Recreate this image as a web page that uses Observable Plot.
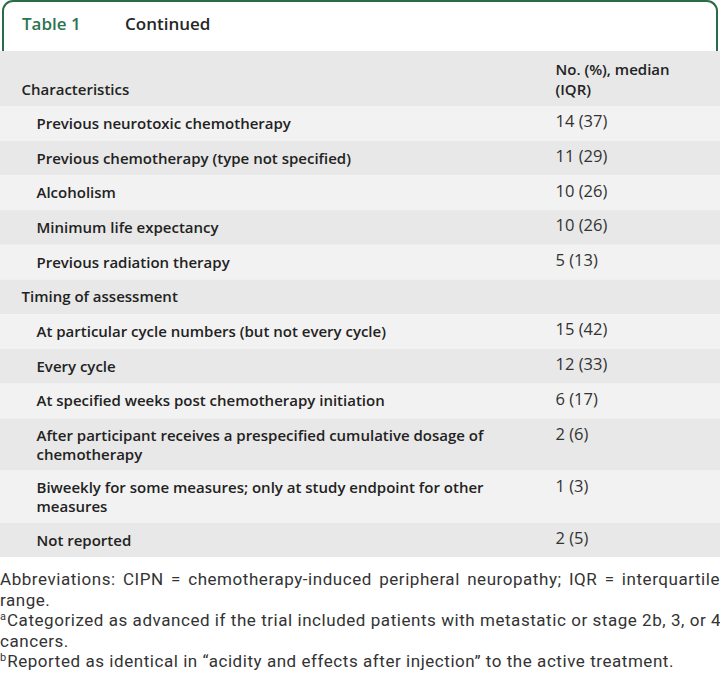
<!DOCTYPE html>
<html>
<head>
<meta charset="utf-8">
<script src="https://cdn.jsdelivr.net/npm/d3@7"></script>
<script src="https://cdn.jsdelivr.net/npm/@observablehq/plot@0.6"></script>
<style>
  html, body { margin: 0; padding: 0; background: #fff; }
  #tab {
    position: relative;
    box-sizing: border-box;
    margin-left: 2px;
    width: 716px;
    height: 51px;
    border: 2px solid #2c6b47;
    border-bottom: none;
    border-radius: 11px 11px 0 0;
    font-family: "Open Sans", sans-serif;
    font-weight: 600;
    font-size: 17px;
  }
  #tab .num { position: absolute; left: 18px; top: 10px; color: #2c7550; }
  #tab .ttl { position: absolute; left: 121px; top: 10px; color: #262626; }
  #chart svg { display: block; }
  #notes {
    font-family: Roboto, "Liberation Sans", sans-serif;
    font-size: 17px;
    letter-spacing: 0.55px;
    color: #333;
    line-height: 20.6px;
    margin-top: 12px;
    white-space: nowrap;
    width: 720px;
  }
  #notes div.just { text-align: justify; text-align-last: justify; }
  #notes sup { font-size: 11px; vertical-align: 6px; line-height: 0; letter-spacing: 0; margin-right: 1px; }
</style>
</head>
<body>
<div id="tab"><span class="num">Table 1</span><span class="ttl">Continued</span></div>
<div id="chart"></div>
<div id="notes"></div>
<script>
// ---- data ----
const headerLabel = "Characteristics";
const headerValue = "No. (%), median\n(IQR)";
const labels = [
  "Previous neurotoxic chemotherapy",
  "Previous chemotherapy (type not specified)",
  "Alcoholism",
  "Minimum life expectancy",
  "Previous radiation therapy",
  "Timing of assessment",
  "At particular cycle numbers (but not every cycle)",
  "Every cycle",
  "At specified weeks post chemotherapy initiation",
  "After participant receives a prespecified cumulative dosage of\nchemotherapy",
  "Biweekly for some measures; only at study endpoint for other\nmeasures",
  "Not reported"
];
const values = ["14 (37)", "11 (29)", "10 (26)", "10 (26)", "5 (13)", "", "15 (42)", "12 (33)", "6 (17)", "2 (6)", "1 (3)", "2 (5)"];
const levels = [1, 1, 1, 1, 1, 0, 1, 1, 1, 1, 1, 1];
const footnotes = [
  ["", "Abbreviations: CIPN = chemotherapy-induced peripheral neuropathy; IQR = interquartile", true],
  ["", "range.", false],
  ["a", "Categorized as advanced if the trial included patients with metastatic or stage 2b, 3, or 4", true],
  ["", "cancers.", false],
  ["b", "Reported as identical in \u201cacidity and effects after injection\u201d to the active treatment.", false]
];

// ---- layout ----
const W = 720;
const headerH = 55;
const rowH = 34.7;
const extraLine = 17.5;
const dark = "#e7e8e7", light = "#f2f2f2";

let cursor = headerH;
const rows = labels.map((label, i) => {
  const nLines = label.split("\n").length;
  const h = rowH + (nLines - 1) * extraLine;
  const r = {label, value: values[i], level: levels[i], top: cursor, bottom: cursor + h, i};
  cursor += h;
  return r;
});
const H = Math.round(cursor);
const header = [{label: headerLabel, value: headerValue, top: 0, bottom: headerH}];

const colLabel = 21, indent = 15, colValue = 555;

const chart = Plot.plot({
  width: W,
  height: H,
  margin: 0,
  x: {type: "linear", domain: [0, W], range: [0, W], axis: null},
  y: {type: "linear", domain: [0, H], range: [0, H], axis: null},
  color: {type: "identity"},
  style: {background: "transparent"},
  marks: [
    Plot.rect(header, {x1: 0, x2: W, y1: "top", y2: "bottom", fill: dark}),
    Plot.rect(rows, {x1: 0, x2: W, y1: "top", y2: "bottom", fill: d => d.i % 2 === 0 ? light : dark}),
    Plot.text(header, {x: colLabel, y: d => d.bottom - 12, text: "label", textAnchor: "start", lineAnchor: "bottom",
      fontFamily: "Open Sans", fontWeight: 600, fontSize: 15, fill: "#222"}),
    Plot.text(header, {x: colValue, y: d => d.bottom - 12, text: "value", textAnchor: "start", lineAnchor: "bottom", lineHeight: 1.3,
      fontFamily: "Open Sans", fontWeight: 600, fontSize: 15, fill: "#222"}),
    Plot.text(rows, {x: d => colLabel + d.level * indent, y: d => d.top + 9, text: "label", textAnchor: "start", lineAnchor: "top", lineHeight: 1.25,
      fontFamily: "Open Sans", fontWeight: 600, fontSize: 15, fill: "#222"}),
    Plot.text(rows, {x: colValue, y: d => d.top + 9, text: "value", textAnchor: "start", lineAnchor: "top",
      fontFamily: "Open Sans", fontSize: 16.5, fill: "#333"})
  ]
});
document.getElementById("chart").append(chart);

const notes = document.getElementById("notes");
for (const [sup, txt, just] of footnotes) {
  const div = document.createElement("div");
  if (just) div.className = "just";
  if (sup) { const s = document.createElement("sup"); s.textContent = sup; div.append(s); }
  div.append(document.createTextNode(txt));
  notes.append(div);
}
</script>
</body>
</html>
